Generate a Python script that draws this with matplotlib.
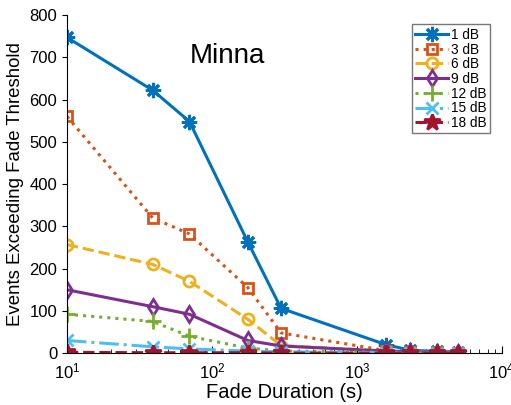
import matplotlib
matplotlib.use("Agg")
import matplotlib.pyplot as plt
import numpy as np

plt.rcParams["font.family"] = ["Liberation Sans", "DejaVu Sans"]

# ── data ────────────────────────────────────────────────────────────────────
durations = [10, 39, 70, 177, 300, 1590, 2330, 3550, 4980]
labels = ["1 dB", "3 dB", "6 dB", "9 dB", "12 dB", "15 dB", "18 dB"]
ev_1  = [747, 622, 548, 263, 106, 20, 7, 4, 3]
ev_3  = [560, 320, 282, 155, 48, 6, 3, 2, 1]
ev_6  = [257, 210, 170, 80, 18, 5, 3, 1, 0]
ev_9  = [150, 110, 92, 30, 17, 5, 3, 1, 0]
ev_12 = [92, 75, 40, 12, 5, 2, 1, 0, 0]
ev_15 = [30, 15, 10, 5, 3, 1, 0, 0, 0]
ev_18 = [2, 1, 1, 1, 0, 0, 0, 0, 0]
series = [ev_1, ev_3, ev_6, ev_9, ev_12, ev_15, ev_18]

# ── styles ──────────────────────────────────────────────────────────────────
colors = ["#0072BD", "#D95319", "#EDB120", "#7E2F8E", "#77AC30", "#4DBEEE", "#A2142F"]
styles = ["-", ":", "--", "-", ":", "-.", "--"]
markers = [(8, 2, 0), "s", "o", "d", "+", "x", "*"]
mfills = ["full", "none", "none", "none", "full", "full", "full"]
msizes = [11, 7, 8, 8, 11, 8, 12]

fig = plt.figure(figsize=(5.11, 4.05), dpi=100)
ax = fig.add_axes([0.131, 0.128, 0.851, 0.835])

for y, lab, c, ls, m, mf, ms in zip(series, labels, colors, styles, markers, mfills, msizes):
    ax.plot(durations, y, color=c, linestyle=ls, linewidth=2.2, marker=m,
            markersize=ms, fillstyle=mf, markeredgewidth=2.0, label=lab)

ax.set_xscale("log")
ax.set_xlim(10, 1e4)
ax.set_ylim(0, 800)
ax.set_yticks(np.arange(0, 801, 100))
ax.tick_params(axis="y", direction="out", labelsize=12)
ax.tick_params(axis="x", which="both", direction="in", labelsize=12, pad=6)
ax.tick_params(axis="x", which="major", length=5)
ax.tick_params(axis="x", which="minor", length=3)
for s in ["top", "right"]:
    ax.spines[s].set_visible(False)

ax.set_xlabel("Fade Duration (s)", fontsize=14.5, labelpad=1)
ax.set_ylabel("Events Exceeding Fade Threshold", fontsize=13.4)
ax.text(0.37, 0.88, "Minna", transform=ax.transAxes, fontsize=20,
        ha="center", va="center")

leg = ax.legend(loc="upper right", bbox_to_anchor=(0.98, 0.98), fontsize=9.8,
                frameon=True, fancybox=False, edgecolor="#555555",
                handlelength=2.4, handletextpad=0.25, borderpad=0.25,
                labelspacing=0.05, borderaxespad=0.2)
leg.get_frame().set_linewidth(1.0)

fig.savefig("out.png", dpi=100)
